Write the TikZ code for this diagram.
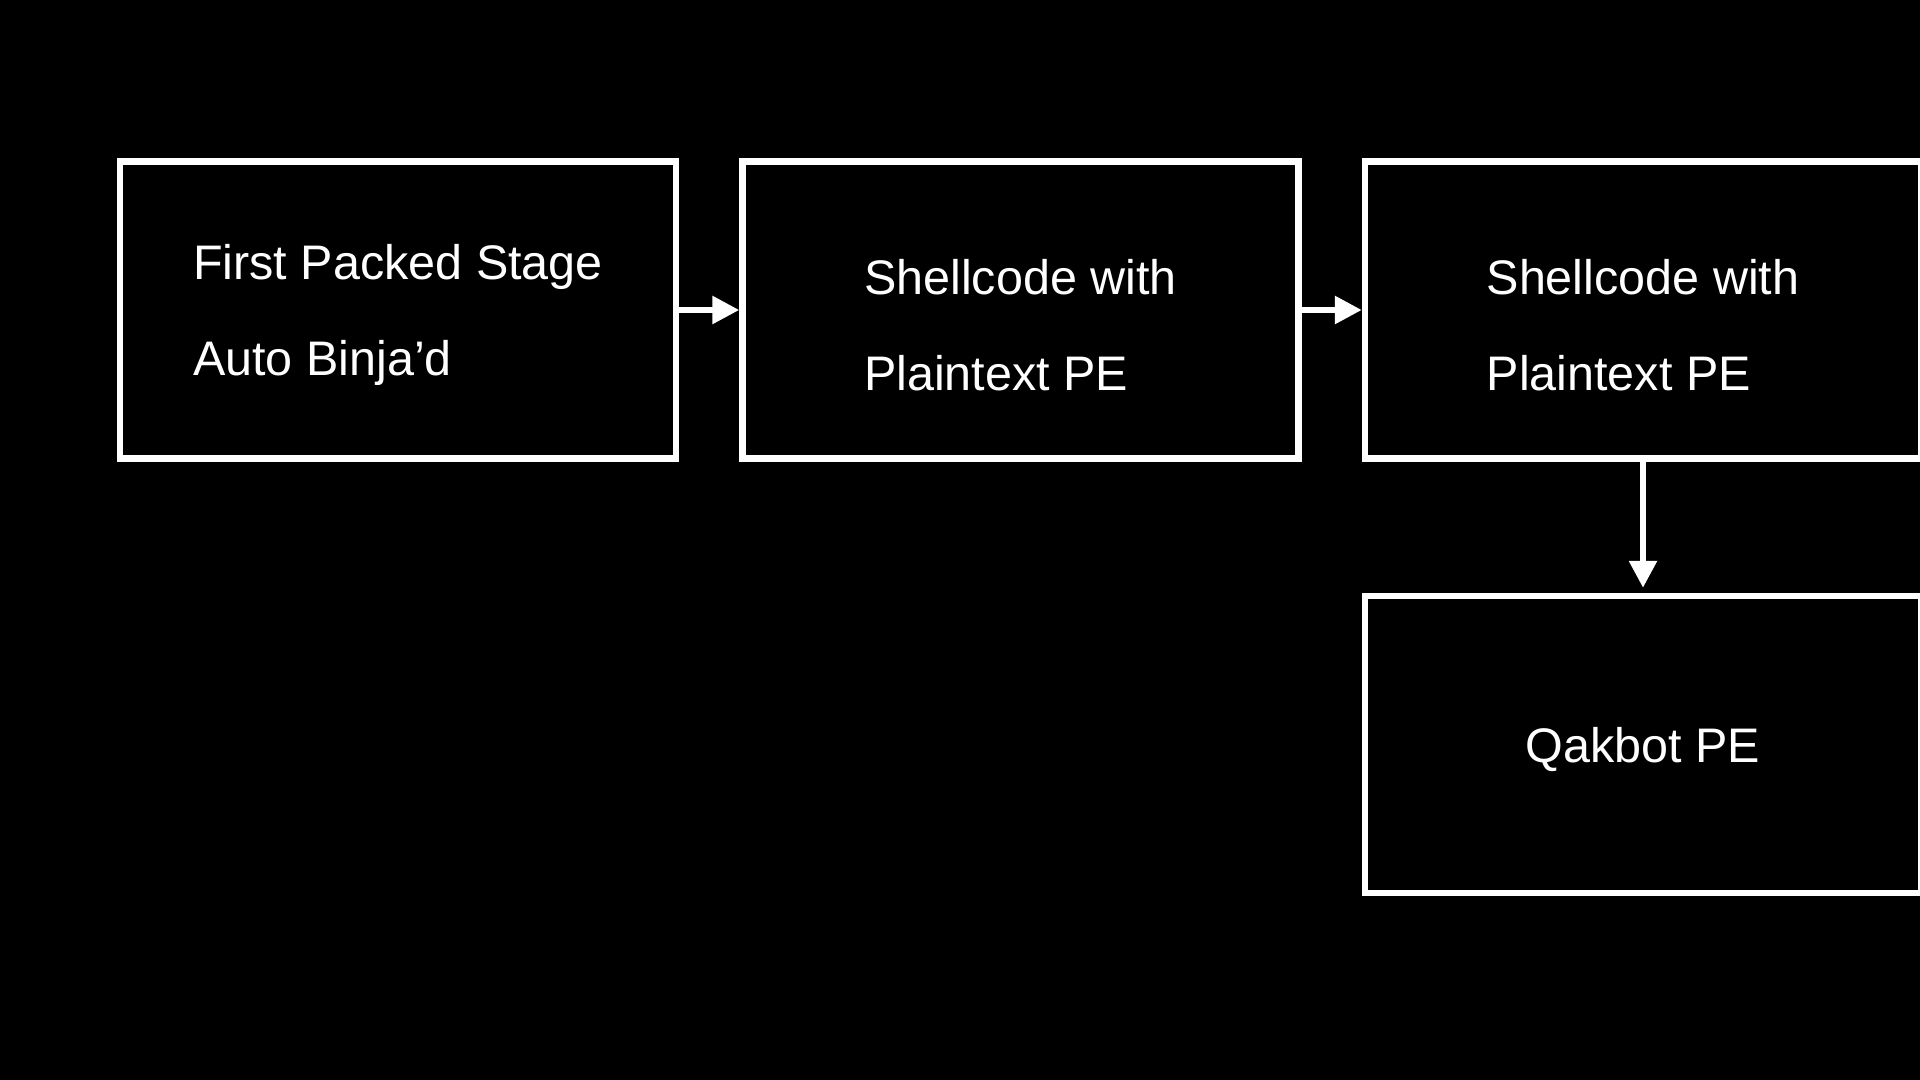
\documentclass[tikz,border=0pt]{standalone}
\usepackage{fontspec}
\setmainfont{Liberation Sans}
\usetikzlibrary{arrows.meta, positioning}

\begin{document}
\begin{tikzpicture}[node distance=0.6cm,
    stagebox/.style={draw=white, rectangle, line width=0.065cm, minimum width=5.56cm, minimum height=2.97cm,
        text=white, align=left, text depth=0pt, font=\fontsize{13.8pt}{27.3pt}\selectfont},
    lowtext/.style={text height=1.6cm},
    flow/.style={draw=white, line width=0.06cm, -{Triangle[length=0.27cm, width=0.27cm]}}]
    \useasboundingbox[fill=black] (0,0) rectangle (19.2,-10.8);
    \clip (0,0) rectangle (19.2,-10.8);

    \node[stagebox] (packed) at (3.98,-3.10) {
        First Packed Stage \\
        Auto Binja’d
    };
    \node[stagebox, lowtext, right=of packed] (shell1) {
        Shellcode with \\
        Plaintext PE
    };
    \node[stagebox, lowtext, right=of shell1] (shell2) {
        Shellcode with \\
        Plaintext PE
    };
    \node[stagebox, below=1.31cm of shell2] (qakbot) {Qakbot PE};

    \draw[flow] (packed) -- (shell1);
    \draw[flow] (shell1) -- (shell2);
    \draw[flow, shorten >=0.05cm] (shell2) -- (qakbot);
\end{tikzpicture}
\end{document}
